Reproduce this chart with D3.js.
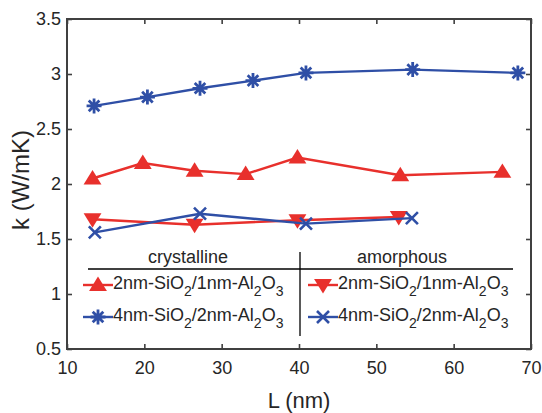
<!DOCTYPE html>
<html lang="en">
<head>
<meta charset="UTF-8" />
<title>k vs L</title>
<script src="https://cdn.jsdelivr.net/npm/d3@7"></script>
<style>
  body { margin: 0; background: #fff; }
  text { font-family: "Liberation Sans", Arial, sans-serif; fill: #262626; }
</style>
</head>
<body>
<script>
// data
var crysL1 = [13.3, 19.8, 26.5, 33.1, 39.8, 53.1, 66.3];
var crysK1 = [2.05, 2.19, 2.12, 2.09, 2.24, 2.08, 2.11];
var crysL2 = [13.5, 20.4, 27.2, 34.05, 40.9, 54.7, 68.3];
var crysK2 = [2.71, 2.79, 2.87, 2.94, 3.01, 3.04, 3.01];
var amorL1 = [13.3, 26.5, 39.8, 52.9];
var amorK1 = [1.68, 1.63, 1.67, 1.70];
var amorL2 = [13.6, 27.2, 40.9, 54.6];
var amorK2 = [1.56, 1.73, 1.64, 1.69];
var xTicks = [10, 20, 30, 40, 50, 60, 70];
var yTicks = [0.5, 1, 1.5, 2, 2.5, 3, 3.5];

var red = "#e8302c", blue = "#2f4fa6";
var width = 542, height = 413;
var margin = {top: 19, right: 11, bottom: 64, left: 67};

var svg = d3.select("body").append("svg")
  .attr("width", width).attr("height", height);

var x = d3.scaleLinear().domain([10, 70]).range([margin.left, width - margin.right]);
var y = d3.scaleLinear().domain([0.5, 3.5]).range([height - margin.bottom, margin.top]);

// marker shapes
function triUp(g, cx, cy, c) {
  var s = 8.5;
  g.append("path").attr("d", "M" + cx + "," + (cy - s) + "L" + (cx + s * 1.05) + "," + (cy + s * 0.7) + "L" + (cx - s * 1.05) + "," + (cy + s * 0.7) + "Z")
    .attr("fill", c);
}
function triDown(g, cx, cy, c) {
  var s = 8.5;
  g.append("path").attr("d", "M" + cx + "," + (cy + s) + "L" + (cx + s * 1.05) + "," + (cy - s * 0.7) + "L" + (cx - s * 1.05) + "," + (cy - s * 0.7) + "Z")
    .attr("fill", c);
}
function star(g, cx, cy, c) {
  var r = 7.5;
  var p = "";
  [0, 45, 90, 135].forEach(function(a) {
    var rad = a * Math.PI / 180, dx = r * Math.cos(rad), dy = r * Math.sin(rad);
    p += "M" + (cx - dx) + "," + (cy - dy) + "L" + (cx + dx) + "," + (cy + dy);
  });
  g.append("path").attr("d", p).attr("stroke", c).attr("stroke-width", 2.8).attr("fill", "none");
}
function cross(g, cx, cy, c) {
  var r = 6;
  g.append("path").attr("d", "M" + (cx - r) + "," + (cy - r) + "L" + (cx + r) + "," + (cy + r) + "M" + (cx - r) + "," + (cy + r) + "L" + (cx + r) + "," + (cy - r))
    .attr("stroke", c).attr("stroke-width", 2.6).attr("fill", "none");
}

var series = [
  {L: amorL1, k: amorK1, c: red, m: triDown},
  {L: amorL2, k: amorK2, c: blue, m: cross},
  {L: crysL1, k: crysK1, c: red, m: triUp},
  {L: crysL2, k: crysK2, c: blue, m: star}
];

var line = d3.line().x(function(d) { return x(d[0]); }).y(function(d) { return y(d[1]); });
var plot = svg.append("g");
series.forEach(function(s) {
  var pts = s.L.map(function(v, i) { return [v, s.k[i]]; });
  plot.append("path").datum(pts).attr("d", line)
    .attr("fill", "none").attr("stroke", s.c).attr("stroke-width", 2.4);
  pts.forEach(function(p) { s.m(plot, x(p[0]), y(p[1]), s.c); });
});

// axes, ticks inside on all four sides
var axisCol = "#404040";
var fmt = function(d) { return String(d); };
svg.append("g").attr("transform", "translate(0," + y(0.5) + ")")
  .call(d3.axisBottom(x).tickValues(xTicks).tickSize(-5).tickPadding(12).tickFormat(fmt))
  .call(function(g) { g.select(".domain").remove(); });
svg.append("g").attr("transform", "translate(0," + y(3.5) + ")")
  .call(d3.axisTop(x).tickValues(xTicks).tickSize(-5).tickFormat(""))
  .call(function(g) { g.select(".domain").remove(); });
svg.append("g").attr("transform", "translate(" + x(10) + ",0)")
  .call(d3.axisLeft(y).tickValues(yTicks).tickSize(-5).tickPadding(6).tickFormat(fmt))
  .call(function(g) { g.select(".domain").remove(); });
svg.append("g").attr("transform", "translate(" + x(70) + ",0)")
  .call(d3.axisRight(y).tickValues(yTicks).tickSize(-5).tickFormat(""))
  .call(function(g) { g.select(".domain").remove(); });
svg.selectAll(".tick line").attr("stroke", axisCol).attr("stroke-width", 1.6);
svg.selectAll(".tick text").style("font-size", "18px").attr("fill", "#262626");
svg.append("rect").attr("x", x(10)).attr("y", y(3.5))
  .attr("width", x(70) - x(10)).attr("height", y(0.5) - y(3.5))
  .attr("fill", "none").attr("stroke", axisCol).attr("stroke-width", 2);

// axis titles
svg.append("text").attr("x", (x(10) + x(70)) / 2).attr("y", 408)
  .attr("text-anchor", "middle").style("font-size", "22px").text("L (nm)");
svg.append("text").attr("transform", "translate(29," + 180 + ") rotate(-90)")
  .attr("text-anchor", "middle").style("font-size", "24px").text("k (W/mK)");

// legend
var lg = svg.append("g");
lg.append("line").attr("x1", 88).attr("x2", 513).attr("y1", 269).attr("y2", 269)
  .attr("stroke", "#000").attr("stroke-width", 1.3);
lg.append("line").attr("x1", 300).attr("x2", 300).attr("y1", 252).attr("y2", 336)
  .attr("stroke", "#000").attr("stroke-width", 1.3);
lg.append("text").attr("x", 188).attr("y", 263).attr("text-anchor", "middle")
  .style("font-size", "18px").text("crystalline");
lg.append("text").attr("x", 402).attr("y", 263).attr("text-anchor", "middle")
  .style("font-size", "18px").text("amorphous");

var legItems = [
  {x0: 83, y0: 285, s: series[2], a: "2nm", b: "1nm"},
  {x0: 83, y0: 317, s: series[3], a: "4nm", b: "2nm"},
  {x0: 308, y0: 285, s: series[0], a: "2nm", b: "1nm"},
  {x0: 308, y0: 317, s: series[1], a: "4nm", b: "2nm"}
];
legItems.forEach(function(it) {
  lg.append("line").attr("x1", it.x0).attr("x2", it.x0 + 30).attr("y1", it.y0).attr("y2", it.y0)
    .attr("stroke", it.s.c).attr("stroke-width", 2.4);
  it.s.m(lg, it.x0 + 15, it.y0, it.s.c);
  var t = lg.append("text").attr("x", it.x0 + 30).attr("y", it.y0 + 4).style("font-size", "18px");
  t.append("tspan").text(it.a + "-SiO");
  t.append("tspan").attr("dy", 7).style("font-size", "14px").text("2");
  t.append("tspan").attr("dy", -7).text("/" + it.b + "-Al");
  t.append("tspan").attr("dy", 7).style("font-size", "14px").text("2");
  t.append("tspan").attr("dy", -7).text("O");
  t.append("tspan").attr("dy", 7).style("font-size", "14px").text("3");
});
</script>
</body>
</html>
